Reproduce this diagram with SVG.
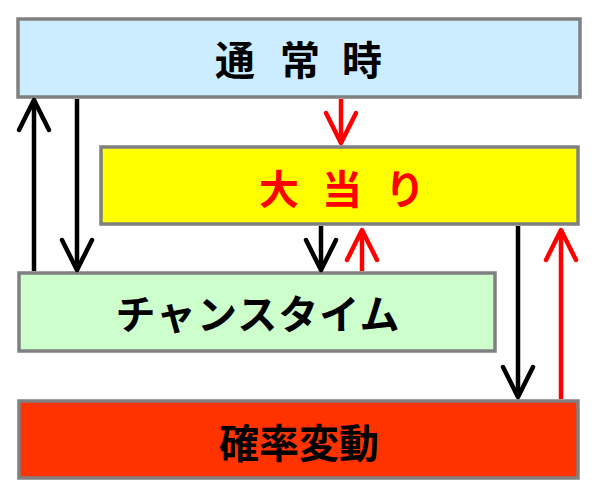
<svg xmlns="http://www.w3.org/2000/svg" width="596" height="499" viewBox="0 0 596 499">
<style>
.box{stroke:#808080;stroke-width:3.5}
.lbl{font-family:"Noto Sans CJK JP","Noto Sans CJK SC",sans-serif;font-weight:bold;font-size:40px;dominant-baseline:central}
.blk{stroke:#000;stroke-width:4.5;fill:none}
.red{stroke:#FF0000;stroke-width:4.5;fill:none}
</style>
<defs>
<marker id="ab" markerUnits="userSpaceOnUse" orient="auto" refX="0" refY="0" markerWidth="40" markerHeight="40" overflow="visible">
<path d="M-30,-15 L0,0 L-30,15" fill="none" stroke="#000" stroke-width="4.5" stroke-linecap="round" stroke-linejoin="round"/>
</marker>
<marker id="ar" markerUnits="userSpaceOnUse" orient="auto" refX="0" refY="0" markerWidth="40" markerHeight="40" overflow="visible">
<path d="M-30,-15 L0,0 L-30,15" fill="none" stroke="#FF0000" stroke-width="4.5" stroke-linecap="round" stroke-linejoin="round"/>
</marker>
</defs>
<rect width="596" height="499" fill="#fff"/>
<g id="normal">
<rect class="box" x="18" y="19" width="562" height="78" fill="#CCECFF"/>
<text class="lbl" x="235 300 362" y="58" text-anchor="middle" fill="#000">通常時</text>
</g>
<g id="bigwin">
<rect class="box" x="101" y="147" width="477" height="77" fill="#FFFF00"/>
<text class="lbl" x="279 342 405" y="187" text-anchor="middle" fill="#FF0000">大当り</text>
</g>
<g id="chancetime">
<rect class="box" x="19" y="273" width="476" height="78" fill="#CCFFCC"/>
<text class="lbl" x="258" y="312" text-anchor="middle" letter-spacing="1" fill="#000">チャンスタイム</text>
</g>
<g id="kakuhen">
<rect class="box" x="19" y="401" width="559" height="77" fill="#FF3300"/>
<text class="lbl" x="299" y="441" text-anchor="middle" fill="#000">確率変動</text>
</g>
<g id="connectors">
<line class="blk" x1="34" y1="271" x2="34" y2="100" marker-end="url(#ab)"/>
<line class="blk" x1="77" y1="99" x2="77" y2="270" marker-end="url(#ab)"/>
<line class="red" x1="341" y1="99" x2="341" y2="143" marker-end="url(#ar)"/>
<line class="blk" x1="321" y1="226" x2="321" y2="270" marker-end="url(#ab)"/>
<line class="red" x1="362" y1="271" x2="362" y2="230" marker-end="url(#ar)"/>
<line class="blk" x1="518" y1="226" x2="518" y2="397" marker-end="url(#ab)"/>
<line class="red" x1="561" y1="399" x2="561" y2="230" marker-end="url(#ar)"/>
</g>
</svg>
